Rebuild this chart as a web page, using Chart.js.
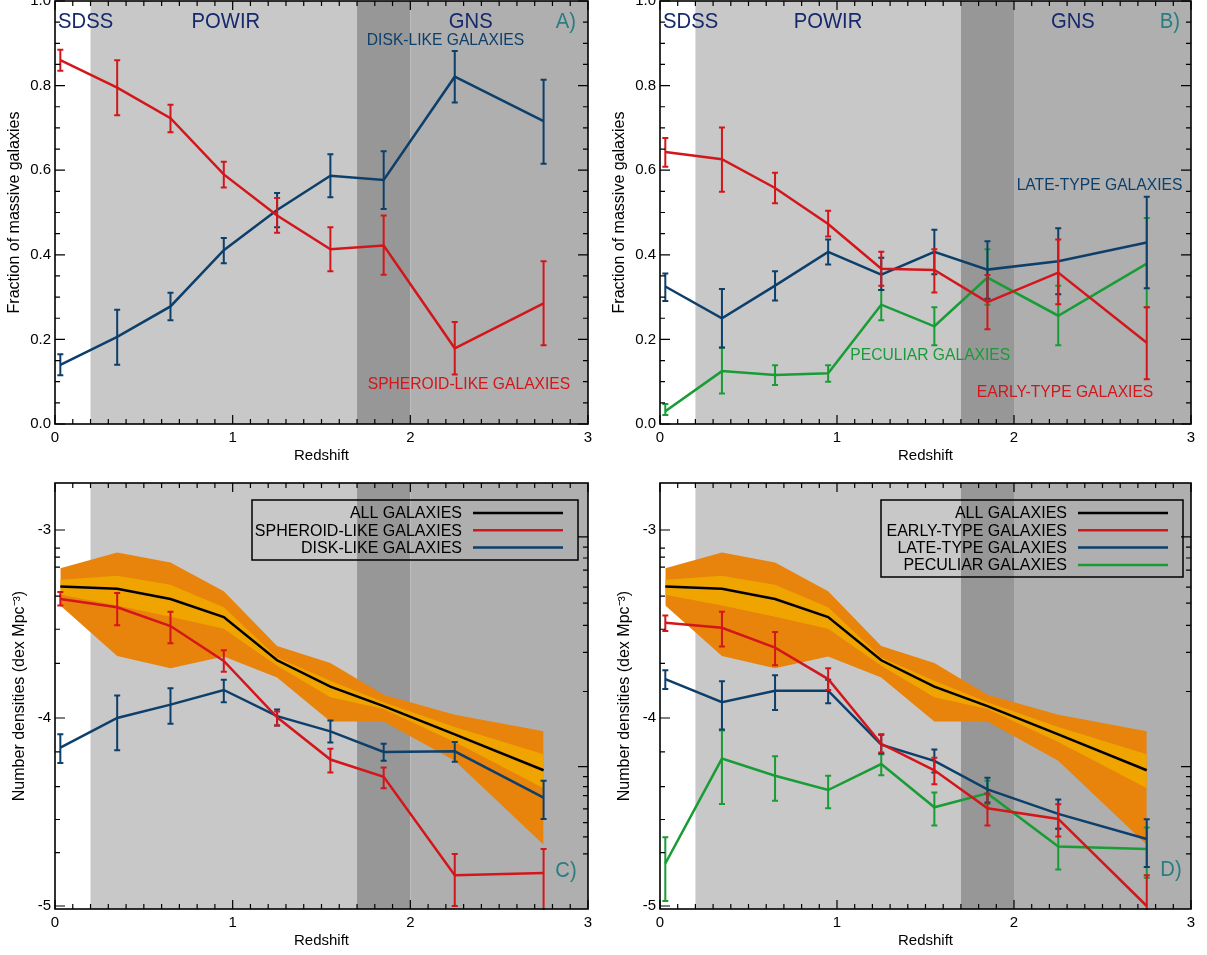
<!DOCTYPE html>
<html>
<head>
<meta charset="utf-8">
<script src="https://cdn.jsdelivr.net/npm/chart.js@4.4.0/dist/chart.umd.min.js"></script>
<style>
html, body { margin: 0; padding: 0; background: #fff; overflow: hidden; }
body { width: 1207px; height: 955px; position: relative; }
canvas { position: absolute; }
#cA { left: 0; top: -12px; width: 600px; height: 482px; }
#cB { left: 605px; top: -12px; width: 602px; height: 482px; }
#cC { left: 0; top: 470px; width: 600px; height: 485px; }
#cD { left: 605px; top: 470px; width: 602px; height: 485px; }
</style>
</head>
<body>
<canvas id="cA" width="600" height="482"></canvas>
<canvas id="cB" width="602" height="482"></canvas>
<canvas id="cC" width="600" height="485"></canvas>
<canvas id="cD" width="602" height="485"></canvas>
<script>
// redshift bins (same for every panel)
const zBins = [0.03, 0.35, 0.65, 0.95, 1.25, 1.55, 1.85, 2.25, 2.75];

// A) fractions, spheroid / disk
const fracSpheroid   = [0.860, 0.795, 0.723, 0.590, 0.493, 0.413, 0.422, 0.179, 0.285];
const fracSpheroidHi = [0.885, 0.860, 0.755, 0.620, 0.534, 0.465, 0.493, 0.241, 0.385];
const fracSpheroidLo = [0.835, 0.730, 0.690, 0.559, 0.452, 0.361, 0.353, 0.117, 0.186];
const fracDisk   = [0.140, 0.206, 0.278, 0.411, 0.506, 0.587, 0.577, 0.821, 0.716];
const fracDiskHi = [0.165, 0.270, 0.310, 0.440, 0.546, 0.638, 0.645, 0.882, 0.814];
const fracDiskLo = [0.115, 0.140, 0.245, 0.380, 0.465, 0.536, 0.508, 0.760, 0.615];

// B) fractions, early / late / peculiar
const fracEarly   = [0.643, 0.626, 0.558, 0.473, 0.367, 0.364, 0.288, 0.358, 0.192];
const fracEarlyHi = [0.676, 0.701, 0.594, 0.504, 0.407, 0.413, 0.352, 0.436, 0.276];
const fracEarlyLo = [0.608, 0.549, 0.522, 0.443, 0.327, 0.311, 0.224, 0.283, 0.106];
const fracLate   = [0.325, 0.250, 0.327, 0.407, 0.353, 0.407, 0.365, 0.385, 0.429];
const fracLateHi = [0.356, 0.319, 0.361, 0.436, 0.393, 0.459, 0.432, 0.463, 0.537];
const fracLateLo = [0.291, 0.181, 0.292, 0.377, 0.317, 0.354, 0.296, 0.307, 0.321];
const fracPec   = [0.030, 0.125, 0.116, 0.120, 0.282, 0.231, 0.346, 0.256, 0.379];
const fracPecHi = [0.047, 0.180, 0.139, 0.139, 0.317, 0.276, 0.413, 0.327, 0.487];
const fracPecLo = [0.021, 0.072, 0.092, 0.100, 0.245, 0.186, 0.282, 0.186, 0.276];

// C) and D) number densities (log)
const densAll     = [-3.300, -3.312, -3.367, -3.463, -3.693, -3.833, -3.937, -4.087, -4.278];
const bandOuterHi = [-3.203, -3.120, -3.173, -3.326, -3.617, -3.708, -3.877, -3.983, -4.071];
const bandOuterLo = [-3.402, -3.670, -3.735, -3.673, -3.784, -4.019, -4.019, -4.228, -4.674];
const bandInnerHi = [-3.264, -3.243, -3.291, -3.411, -3.678, -3.802, -3.916, -4.048, -4.193];
const bandInnerLo = [-3.344, -3.402, -3.462, -3.525, -3.722, -3.890, -3.952, -4.128, -4.374];

const densSpheroid   = [-3.367, -3.411, -3.511, -3.696, -3.996, -4.221, -4.313, -4.836, -4.824];
const densSpheroidHi = [-3.330, -3.335, -3.435, -3.640, -3.966, -4.163, -4.263, -4.723, -4.697];
const densSpheroidLo = [-3.402, -3.507, -3.603, -3.754, -4.040, -4.290, -4.374, -5.000, -5.100];
const densDisk   = [-4.158, -4.000, -3.929, -3.851, -3.990, -4.071, -4.181, -4.177, -4.424];
const densDiskHi = [-4.087, -3.881, -3.842, -3.796, -3.955, -4.013, -4.137, -4.128, -4.334];
const densDiskLo = [-4.239, -4.172, -4.031, -3.916, -4.040, -4.131, -4.228, -4.233, -4.537];

const densEarly   = [-3.493, -3.520, -3.626, -3.793, -4.137, -4.278, -4.480, -4.537, -5.000];
const densEarlyHi = [-3.455, -3.435, -3.543, -3.735, -4.087, -4.212, -4.401, -4.459, -4.836];
const densEarlyLo = [-3.537, -3.620, -3.719, -3.851, -4.184, -4.353, -4.572, -4.630, -5.100];
const densLate   = [-3.793, -3.916, -3.855, -3.855, -4.142, -4.228, -4.380, -4.510, -4.644];
const densLateHi = [-3.746, -3.805, -3.772, -3.796, -4.089, -4.167, -4.318, -4.433, -4.538];
const densLateLo = [-3.846, -4.061, -3.957, -3.922, -4.189, -4.290, -4.450, -4.589, -4.792];
const densPec   = [-4.774, -4.216, -4.307, -4.383, -4.245, -4.475, -4.401, -4.683, -4.697];
const densPecHi = [-4.635, -4.066, -4.204, -4.307, -4.193, -4.396, -4.334, -4.589, -4.582];
const densPecLo = [-4.974, -4.457, -4.440, -4.480, -4.304, -4.572, -4.457, -4.806, -4.850];

// survey shading
const bandEdges = [0, 0.2, 1.7, 2.0, 3.0];
const bandColors = ['#ffffff', '#c8c8c8', '#979797', '#afafaf'];

// ticks
const fracTicks = [0, 0.2, 0.4, 0.6, 0.8, 1.0];
const densTicks = [-5, -4, -3];
const densMinorLeft = [-3.096, -3.144, -3.197, -3.352, -3.528, -3.709, -4.18, -4.365, -4.54, -4.716];
const densMajorRight = [-3.037, -4.259];
const densMinorRight = [-3.091, -3.149, -3.213, -3.304, -3.389, -3.507, -3.651, -3.859,
                        -4.312, -4.365, -4.413, -4.483, -4.557, -4.632, -4.723];

const RED = '#d3161b', BLUE = '#0d3f6b', GREEN = '#189c35', NAVY = '#16296c', TEAL = '#2b7d80';
const ORANGE = '#e8830c', AMBER = '#efa400';
const FONT = '"Liberation Sans", Arial, Helvetica, sans-serif';
Chart.defaults.font.family = FONT;

function pts(ys) { return zBins.map((x, i) => ({ x: x, y: ys[i] })); }

function series(ys, lo, hi, color) {
  return { data: pts(ys), errLo: lo, errHi: hi, borderColor: color, borderWidth: 2.5,
           pointRadius: 0, fill: false, tension: 0, order: 1 };
}
function band(ys, color, fillIt, order) {
  return { data: pts(ys), borderColor: 'rgba(0,0,0,0)', borderWidth: 0, backgroundColor: color,
           pointRadius: 0, fill: fillIt ? '+1' : false, tension: 0, order: order };
}
function bandSets() {
  return [band(bandOuterHi, ORANGE, true, 10), band(bandOuterLo, ORANGE, false, 10),
          band(bandInnerHi, AMBER, true, 9), band(bandInnerLo, AMBER, false, 9),
          { data: pts(densAll), borderColor: '#000', borderWidth: 2.5, pointRadius: 0, fill: false, order: 2 }];
}

const errorBars = {
  id: 'errorBars',
  afterDatasetDraw(chart, args) {
    const ds = chart.data.datasets[args.index];
    if (!ds.errLo) return;
    const ctx = chart.ctx, a = chart.chartArea, xs = chart.scales.x, ys = chart.scales.y;
    ctx.save();
    ctx.beginPath(); ctx.rect(a.left, a.top - 1, a.width, a.height + 2); ctx.clip();
    ctx.strokeStyle = ds.borderColor; ctx.lineWidth = 2;
    ds.data.forEach((p, i) => {
      const x = xs.getPixelForValue(p.x);
      const y1 = ys.getPixelForValue(ds.errHi[i]), y2 = ys.getPixelForValue(ds.errLo[i]);
      ctx.beginPath();
      ctx.moveTo(x, y1); ctx.lineTo(x, y2);
      ctx.moveTo(x - 3, y1); ctx.lineTo(x + 3, y1);
      ctx.moveTo(x - 3, y2); ctx.lineTo(x + 3, y2);
      ctx.stroke();
    });
    ctx.restore();
  }
};

const decoById = {};

const deco = {
  id: 'deco',
  beforeDatasetsDraw(chart) {
    const ctx = chart.ctx, a = chart.chartArea, xs = chart.scales.x;
    ctx.save();
    for (let i = 0; i < bandColors.length; i++) {
      const x1 = xs.getPixelForValue(bandEdges[i]), x2 = xs.getPixelForValue(bandEdges[i + 1]);
      ctx.fillStyle = bandColors[i];
      ctx.fillRect(x1, a.top, x2 - x1, a.height);
    }
    ctx.restore();
  },
  afterDatasetsDraw(chart) {
    const d = decoById[chart.canvas.id];
    const ctx = chart.ctx, a = chart.chartArea, xs = chart.scales.x, ys = chart.scales.y;
    ctx.save();
    // frame and inward ticks
    ctx.strokeStyle = '#000'; ctx.lineWidth = 1.2;
    ctx.beginPath();
    for (let i = 0; i <= 30; i++) {
      const x = xs.getPixelForValue(i / 10), len = i % 10 === 0 ? 9 : 5;
      ctx.moveTo(x, a.bottom); ctx.lineTo(x, a.bottom - len);
      ctx.moveTo(x, a.top); ctx.lineTo(x, a.top + len);
    }
    const tk = (vals, len, right) => vals.forEach(v => {
      const y = ys.getPixelForValue(v);
      if (right) { ctx.moveTo(a.right, y); ctx.lineTo(a.right - len, y); }
      else { ctx.moveTo(a.left, y); ctx.lineTo(a.left + len, y); }
    });
    tk(d.yMajorL, 10, false); tk(d.yMinorL, 5, false);
    tk(d.yMajorR, 10, true); tk(d.yMinorR, 5, true);
    ctx.stroke();
    ctx.lineWidth = 1.6;
    ctx.strokeRect(a.left, a.top, a.width, a.height);
    // annotations
    d.texts.forEach(t => {
      const x = xs.getPixelForValue(t.x), y = ys.getPixelForValue(t.y);
      ctx.save();
      ctx.translate(x, y); ctx.scale(0.92, 1);
      ctx.font = t.size + 'px ' + FONT;
      ctx.fillStyle = t.color; ctx.textAlign = t.align || 'left'; ctx.textBaseline = 'middle';
      ctx.fillText(t.text, 0, 0);
      ctx.restore();
    });
    // legend
    if (d.legend) {
      const L = d.legend;
      ctx.strokeStyle = '#000'; ctx.lineWidth = 1.5;
      ctx.strokeRect(L.box[0], L.box[1], L.box[2] - L.box[0], L.box[3] - L.box[1]);
      ctx.font = '16px ' + FONT; ctx.textAlign = 'right'; ctx.textBaseline = 'middle';
      L.rows.forEach((r, i) => {
        const y = L.y0 + i * L.dy;
        ctx.fillStyle = '#000';
        ctx.fillText(r[0], L.textRight, y + 1);
        ctx.strokeStyle = r[1]; ctx.lineWidth = 2.5;
        ctx.beginPath(); ctx.moveTo(L.line[0], y); ctx.lineTo(L.line[1], y); ctx.stroke();
      });
    }
    ctx.restore();
  }
};

function panel(id, datasets, top) {
  const yOpts = top ? {
    min: 0, max: 1.0,
    ticks: { stepSize: 0.2, padding: 4, color: '#000', font: { size: 15 }, callback: v => v.toFixed(1) },
    title: { display: true, text: 'Fraction of massive galaxies', color: '#000', font: { size: 16 }, padding: { top: 5, bottom: 0 } }
  } : {
    min: -5.016, max: -2.75,
    afterBuildTicks: s => { s.ticks = densTicks.map(v => ({ value: v })); },
    ticks: { padding: 4, color: '#000', font: { size: 15 }, callback: v => String(v) },
    title: { display: true, text: 'Number densities (dex Mpc\u207B\u00B3)', color: '#000', font: { size: 16 }, padding: { top: 10, bottom: 0 } }
  };
  yOpts.type = 'linear';
  yOpts.grid = { display: false, drawTicks: false };
  yOpts.border = { display: false };
  yOpts.afterFit = s => { s.width = 55; };
  const wide = id === 'cB' || id === 'cD';
  return new Chart(document.getElementById(id), {
    type: 'line',
    data: { datasets: datasets },
    options: {
      responsive: false, animation: false, events: [],
      layout: { padding: { left: 0, right: wide ? 16 : 12, top: top ? 12 : 13, bottom: 0 } },
      plugins: { legend: { display: false }, tooltip: { enabled: false } },
      scales: {
        x: {
          type: 'linear', min: 0, max: 3,
          grid: { display: false, drawTicks: false }, border: { display: false },
          ticks: { stepSize: 1, padding: 5, color: '#000', font: { size: 15 }, maxRotation: 0 },
          title: { display: true, text: 'Redshift', color: '#000', font: { size: 15 }, padding: { top: 0, bottom: 5 } },
          afterFit: s => { s.height = 46; }
        },
        y: yOpts
      }
    },
    plugins: [deco, errorBars]
  });
}

const fracMinor = [];
for (let i = 0; i <= 20; i++) fracMinor.push(i / 20);

decoById.cA = {
  yMajorL: fracTicks, yMinorL: fracMinor, yMajorR: fracTicks, yMinorR: fracMinor,
  texts: [
    { text: 'SDSS', x: 0.017, y: 0.95, size: 22, color: NAVY },
    { text: 'POWIR', x: 0.962, y: 0.95, size: 22, color: NAVY, align: 'center' },
    { text: 'GNS', x: 2.34, y: 0.95, size: 22, color: NAVY, align: 'center' },
    { text: 'A)', x: 2.876, y: 0.95, size: 22, color: TEAL, align: 'center' },
    { text: 'DISK-LIKE GALAXIES', x: 1.755, y: 0.906, size: 17, color: BLUE },
    { text: 'SPHEROID-LIKE GALAXIES', x: 1.76, y: 0.094, size: 17, color: RED }
  ]
};
decoById.cB = {
  yMajorL: fracTicks, yMinorL: fracMinor, yMajorR: fracTicks, yMinorR: fracMinor,
  texts: [
    { text: 'SDSS', x: 0.017, y: 0.95, size: 22, color: NAVY },
    { text: 'POWIR', x: 0.949, y: 0.95, size: 22, color: NAVY, align: 'center' },
    { text: 'GNS', x: 2.333, y: 0.95, size: 22, color: NAVY, align: 'center' },
    { text: 'B)', x: 2.88, y: 0.95, size: 22, color: TEAL, align: 'center' },
    { text: 'LATE-TYPE GALAXIES', x: 2.015, y: 0.564, size: 17, color: BLUE },
    { text: 'PECULIAR GALAXIES', x: 1.075, y: 0.163, size: 17, color: GREEN },
    { text: 'EARLY-TYPE GALAXIES', x: 1.79, y: 0.075, size: 17, color: RED }
  ]
};
decoById.cC = {
  yMajorL: densTicks, yMinorL: densMinorLeft, yMajorR: densMajorRight, yMinorR: densMinorRight,
  texts: [{ text: 'C)', x: 2.876, y: -4.813, size: 22, color: TEAL, align: 'center' }],
  legend: {
    box: [252, 30, 578, 90], textRight: 462, line: [473, 563], y0: 43, dy: 17.2,
    rows: [['ALL GALAXIES', '#000'], ['SPHEROID-LIKE GALAXIES', RED], ['DISK-LIKE GALAXIES', BLUE]]
  }
};
decoById.cD = {
  yMajorL: densTicks, yMinorL: densMinorLeft, yMajorR: densMajorRight, yMinorR: densMinorRight,
  texts: [{ text: 'D)', x: 2.887, y: -4.81, size: 22, color: TEAL, align: 'center' }],
  legend: {
    box: [276, 30, 578, 107], textRight: 462, line: [473, 563], y0: 43, dy: 17.3,
    rows: [['ALL GALAXIES', '#000'], ['EARLY-TYPE GALAXIES', RED], ['LATE-TYPE GALAXIES', BLUE], ['PECULIAR GALAXIES', GREEN]]
  }
};

panel('cA', [
  series(fracSpheroid, fracSpheroidLo, fracSpheroidHi, RED),
  series(fracDisk, fracDiskLo, fracDiskHi, BLUE)
], true);

panel('cB', [
  series(fracEarly, fracEarlyLo, fracEarlyHi, RED),
  series(fracLate, fracLateLo, fracLateHi, BLUE),
  series(fracPec, fracPecLo, fracPecHi, GREEN)
], true);

panel('cC', bandSets().concat([
  series(densSpheroid, densSpheroidLo, densSpheroidHi, RED),
  series(densDisk, densDiskLo, densDiskHi, BLUE)
]), false);

panel('cD', bandSets().concat([
  series(densEarly, densEarlyLo, densEarlyHi, RED),
  series(densLate, densLateLo, densLateHi, BLUE),
  series(densPec, densPecLo, densPecHi, GREEN)
]), false);
</script>
</body>
</html>
